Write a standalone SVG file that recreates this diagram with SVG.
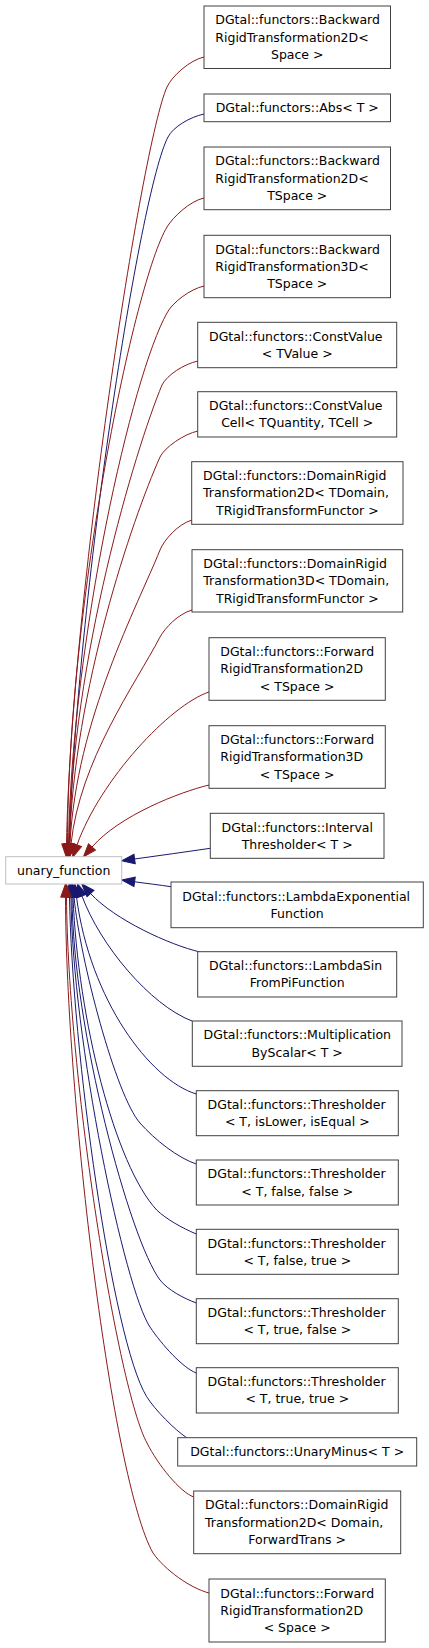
<svg xmlns="http://www.w3.org/2000/svg" width="429" height="1648" viewBox="0 0 429 1648">
<style>
.n rect{fill:#fff;stroke:#404040;stroke-width:1}
.u rect{fill:#fff;stroke:#bfbfbf;stroke-width:1}
text{font-family:"DejaVu Sans","Liberation Sans",sans-serif;font-size:12.5px;fill:#000}
.c{text-anchor:middle}
.r{fill:none;stroke:#8b1a1a;stroke-width:1;marker-end:url(#ar)}
.b{fill:none;stroke:#191970;stroke-width:1;marker-end:url(#ab)}
</style>
<defs>
<marker id="ar" viewBox="-1 -6 15 12" markerWidth="15" markerHeight="12" refX="0" refY="0" orient="auto" markerUnits="userSpaceOnUse"><path d="M0,-4.7L13,0L0,4.7Z" fill="#8b1a1a" stroke="#8b1a1a" stroke-width="1"/></marker>
<marker id="ab" viewBox="-1 -6 15 12" markerWidth="15" markerHeight="12" refX="0" refY="0" orient="auto" markerUnits="userSpaceOnUse"><path d="M0,-4.7L13,0L0,4.7Z" fill="#191970" stroke="#191970" stroke-width="1"/></marker>
</defs>
<rect width="429" height="1648" fill="#fff"/>
<g id="edges">
<path class="r" d="M204,57C190,60 172,76 167,87C142,142 71,600 66.5,844"/>
<path class="b" d="M204,114C190,117 173,127 168,137C140,190 76,600 69.5,844"/>
<path class="r" d="M204,198C190,201 173,217 167,227C135,280 68,600 67.5,844"/>
<path class="r" d="M204,286C190,289 172,303 167,313C132,375 72,640 68.5,844"/>
<path class="r" d="M198,361C184,364 167,375 162,385C135,450 72,660 69,844"/>
<path class="r" d="M198,431C184,434 165,447 160,457C132,520 74,690 69.5,844"/>
<path class="r" d="M192,520C178,524 164,540 160,550C138,605 76,720 70,844"/>
<path class="r" d="M192,610C178,614 165,628 160,637C135,685 80,760 71,844"/>
<path class="r" d="M209,692C170,705 100,780 77,845"/>
<path class="r" d="M209,785C180,792 120,815 92,847"/>
<path class="b" d="M210.3,848.3C185,852 160,855.5 134.6,859"/>
<path class="b" d="M171,886.7C160,885 147,883.5 134.6,881.8"/>
<path class="b" d="M200,952C170,945 115,920 90.5,893.5"/>
<path class="b" d="M192,1021C150,1005 100,945 82,896"/>
<path class="b" d="M196.3,1094C150,1080 90,1000 76.5,897"/>
<path class="b" d="M196.3,1164C178,1158 155,1140 140,1123C116,1096 80,960 74,897"/>
<path class="b" d="M196.3,1234C182,1228 166,1219 156.7,1210C115,1165 78,1020 73,897"/>
<path class="b" d="M196.3,1303C183,1298 168,1290 160,1280C130,1240 73,1030 72,897"/>
<path class="b" d="M196.3,1373C183,1368 162,1345 150,1327C125,1290 72,1040 71,897"/>
<path class="b" d="M186.7,1437.7C175,1430 155,1410 146.7,1396.7C112,1340 72,1050 69.5,897"/>
<path class="r" d="M193.7,1497C180,1492 158,1465 147,1443C118,1390 68,1080 66.5,897"/>
<path class="r" d="M209,1593C190,1588 165,1570 153,1553C112,1480 66,1100 65.5,897"/>
</g>
<g id="unary_function" class="u"><rect x="5.7" y="856.7" width="116" height="27.3"/><text class="c" x="63.7" y="874.75">unary_function</text></g>
<g id="n1" class="n"><rect x="204" y="6" width="186.5" height="62.5"/><text x="215.3" y="24.35">DGtal::functors::Backward</text><text x="215.3" y="41.65">RigidTransformation2D&lt;</text><text class="c" x="297.25" y="58.95">Space &gt;</text></g>
<g id="n2" class="n"><rect x="204" y="94" width="186.5" height="27.7"/><text class="c" x="297.25" y="112.25">DGtal::functors::Abs&lt; T &gt;</text></g>
<g id="n3" class="n"><rect x="204" y="147" width="186.5" height="62.7"/><text x="215.3" y="165.45">DGtal::functors::Backward</text><text x="215.3" y="182.75">RigidTransformation2D&lt;</text><text class="c" x="297.25" y="200.05">TSpace &gt;</text></g>
<g id="n4" class="n"><rect x="204" y="235.3" width="186.5" height="62.4"/><text x="215.3" y="253.6">DGtal::functors::Backward</text><text x="215.3" y="270.9">RigidTransformation3D&lt;</text><text class="c" x="297.25" y="288.2">TSpace &gt;</text></g>
<g id="n5" class="n"><rect x="197.7" y="322.3" width="199" height="45.4"/><text x="209" y="340.75">DGtal::functors::ConstValue</text><text class="c" x="297.2" y="358.05">&lt; TValue &gt;</text></g>
<g id="n6" class="n"><rect x="197.7" y="391.7" width="199" height="45.3"/><text x="209" y="410.1">DGtal::functors::ConstValue</text><text class="c" x="297.2" y="427.4">Cell&lt; TQuantity, TCell &gt;</text></g>
<g id="n7" class="n"><rect x="191.7" y="461.7" width="211.3" height="62.6"/><text x="203" y="480.1">DGtal::functors::DomainRigid</text><text x="203" y="497.4">Transformation2D&lt; TDomain,</text><text class="c" x="297.35" y="514.7">TRigidTransformFunctor &gt;</text></g>
<g id="n8" class="n"><rect x="192" y="549.7" width="210.7" height="62.3"/><text x="203.3" y="567.95">DGtal::functors::DomainRigid</text><text x="203.3" y="585.25">Transformation3D&lt; TDomain,</text><text class="c" x="297.35" y="602.55">TRigidTransformFunctor &gt;</text></g>
<g id="n9" class="n"><rect x="209" y="637.7" width="176.3" height="62.6"/><text x="220.3" y="656.1">DGtal::functors::Forward</text><text x="220.3" y="673.4">RigidTransformation2D</text><text class="c" x="297.15" y="690.7">&lt; TSpace &gt;</text></g>
<g id="n10" class="n"><rect x="209" y="725.7" width="176.3" height="62.6"/><text x="220.3" y="744.1">DGtal::functors::Forward</text><text x="220.3" y="761.4">RigidTransformation3D</text><text class="c" x="297.15" y="778.7">&lt; TSpace &gt;</text></g>
<g id="n11" class="n"><rect x="210.3" y="813.3" width="173.7" height="45"/><text x="221.6" y="831.55">DGtal::functors::Interval</text><text class="c" x="297.15" y="848.85">Thresholder&lt; T &gt;</text></g>
<g id="n12" class="n"><rect x="171" y="882" width="252.3" height="45.7"/><text x="182.3" y="900.6">DGtal::functors::LambdaExponential</text><text class="c" x="297.15" y="917.9">Function</text></g>
<g id="n13" class="n"><rect x="197.7" y="951.7" width="199" height="45.3"/><text x="209" y="970.1">DGtal::functors::LambdaSin</text><text class="c" x="297.2" y="987.4">FromPiFunction</text></g>
<g id="n14" class="n"><rect x="192.3" y="1021" width="209.7" height="45.3"/><text x="203.6" y="1039.4">DGtal::functors::Multiplication</text><text class="c" x="297.15" y="1056.7">ByScalar&lt; T &gt;</text></g>
<g id="n15" class="n"><rect x="196.3" y="1090.7" width="202" height="45"/><text x="207.6" y="1108.95">DGtal::functors::Thresholder</text><text class="c" x="297.3" y="1126.25">&lt; T, isLower, isEqual &gt;</text></g>
<g id="n16" class="n"><rect x="196.3" y="1160" width="202" height="45"/><text x="207.6" y="1178.25">DGtal::functors::Thresholder</text><text class="c" x="297.3" y="1195.55">&lt; T, false, false &gt;</text></g>
<g id="n17" class="n"><rect x="196.3" y="1229.3" width="202" height="45"/><text x="207.6" y="1247.55">DGtal::functors::Thresholder</text><text class="c" x="297.3" y="1264.85">&lt; T, false, true &gt;</text></g>
<g id="n18" class="n"><rect x="196.3" y="1298.7" width="202" height="45"/><text x="207.6" y="1316.95">DGtal::functors::Thresholder</text><text class="c" x="297.3" y="1334.25">&lt; T, true, false &gt;</text></g>
<g id="n19" class="n"><rect x="196.3" y="1367.7" width="202" height="45.3"/><text x="207.6" y="1386.1">DGtal::functors::Thresholder</text><text class="c" x="297.3" y="1403.4">&lt; T, true, true &gt;</text></g>
<g id="n20" class="n"><rect x="177.7" y="1437.7" width="239" height="28.3"/><text class="c" x="297.2" y="1456.25">DGtal::functors::UnaryMinus&lt; T &gt;</text></g>
<g id="n21" class="n"><rect x="193.7" y="1491" width="207" height="62.7"/><text x="205" y="1509.45">DGtal::functors::DomainRigid</text><text x="205" y="1526.75">Transformation2D&lt; Domain,</text><text class="c" x="297.2" y="1544.05">ForwardTrans &gt;</text></g>
<g id="n22" class="n"><rect x="209" y="1579" width="176.3" height="63"/><text x="220.3" y="1597.6">DGtal::functors::Forward</text><text x="220.3" y="1614.9">RigidTransformation2D</text><text class="c" x="297.15" y="1632.2">&lt; Space &gt;</text></g>
</svg>
